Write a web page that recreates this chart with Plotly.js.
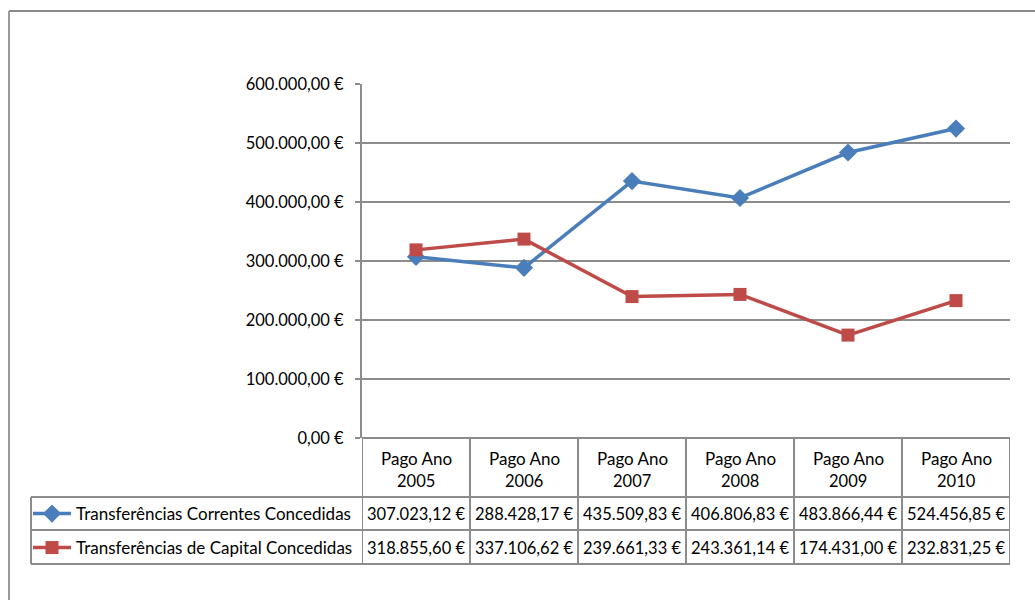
<!DOCTYPE html>
<html>
<head>
<meta charset="utf-8">
<script src="https://cdn.plot.ly/plotly-3.0.1.min.js"></script>
<style>
html,body{margin:0;padding:0;background:#fff;}
#chart{width:1035px;height:600px;}
</style>
</head>
<body>
<div id="chart"></div>
<script>
// ---- data ----
const categories = ["Pago Ano 2005","Pago Ano 2006","Pago Ano 2007","Pago Ano 2008","Pago Ano 2009","Pago Ano 2010"];
const headerLine1 = ["Pago Ano","Pago Ano","Pago Ano","Pago Ano","Pago Ano","Pago Ano"];
const headerLine2 = ["2005","2006","2007","2008","2009","2010"];
const seriesNames = ["Transferências Correntes Concedidas","Transferências de Capital Concedidas"];
const correntes = [307023.12, 288428.17, 435509.83, 406806.83, 483866.44, 524456.85];
const capital = [318855.60, 337106.62, 239661.33, 243361.14, 174431.00, 232831.25];
const yTickVals = [0, 100000, 200000, 300000, 400000, 500000, 600000];

// ---- layout helpers ----
const W = 1035, H = 600;
const L = 362, R = 1010, T = 84, B = 438;
const px2x = p => (p - L) / (R - L);
const px2y = p => (B - p) / (B - T);
const FONT = "Lato, 'Open Sans', sans-serif";
const FSN = 16.5;   // numbers
const FST = 17;     // words
const GRID = "#8c8c8c";

function fmtEuro(v){
  const parts = v.toFixed(2).split(".");
  parts[0] = parts[0].replace(/\B(?=(\d{3})+(?!\d))/g, ".");
  return parts[0] + "," + parts[1] + " €";
}

const traces = [
  {x: categories, y: correntes, name: seriesNames[0], type: "scatter", mode: "lines+markers",
   line: {color: "#4A7EBB", width: 3.5}, marker: {symbol: "diamond", size: 14, color: "#4A7EBB"},
   legend: "legend"},
  {x: categories, y: capital, name: seriesNames[1], type: "scatter", mode: "lines+markers",
   line: {color: "#BE4B48", width: 3.5}, marker: {symbol: "square", size: 13, color: "#BE4B48"},
   legend: "legend2"}
];

const shapes = [];
const line = (x0,y0,x1,y1,xref,w,c) => shapes.push({type:"line", xref: xref||"paper", yref:"paper",
  x0, y0, x1, y1, line:{color: c||GRID, width: w||2}, layer:"above"});
// outer chart frame
line(px2x(9), px2y(11), px2x(W+5), px2y(11), "paper", 2, "#8a8a8a");
line(px2x(9), px2y(11), px2x(9), px2y(H+5), "paper", 2, "#9a9a9a");
// data table horizontal lines
const rowY = [497, 530, 564];
rowY.forEach(y => line(px2x(31), px2y(y), 1, px2y(y)));
// legend column left border
line(px2x(31), px2y(497), px2x(31), px2y(564));
// column boundaries from category positions
for (let i = 0; i <= categories.length; i++) {
  shapes.push({type:"line", xref:"x", yref:"paper", x0: i - 0.5, x1: i - 0.5,
    y0: 0, y1: px2y(564), line:{color: GRID, width: 2}, layer:"above"});
}

const annotations = [];
categories.forEach((c, i) => {
  annotations.push({x: i, xref:"x", y: px2y(458), yref:"paper", text: headerLine1[i], showarrow:false,
    font:{family:FONT, size:FST, color:"#000"}, xanchor:"center", yanchor:"middle"});
  annotations.push({x: i, xref:"x", y: px2y(481), yref:"paper", text: headerLine2[i], showarrow:false,
    font:{family:FONT, size:FSN, color:"#000"}, xanchor:"center", yanchor:"middle"});
  annotations.push({x: i, xref:"x", y: px2y(514), yref:"paper", text: fmtEuro(correntes[i]), showarrow:false,
    font:{family:FONT, size:FSN, color:"#000"}, xanchor:"center", yanchor:"middle"});
  annotations.push({x: i, xref:"x", y: px2y(548), yref:"paper", text: fmtEuro(capital[i]), showarrow:false,
    font:{family:FONT, size:FSN, color:"#000"}, xanchor:"center", yanchor:"middle"});
});

const legendCommon = {font:{family:FONT, size:FST, color:"#000"}, bgcolor:"rgba(0,0,0,0)",
  borderwidth:0, itemwidth:38, xanchor:"left", yanchor:"middle", x: px2x(28), tracegroupgap:0};

const layout = {
  width: W, height: H,
  margin: {l: L, r: W - R, t: T, b: H - B, pad: 0},
  paper_bgcolor: "#fff", plot_bgcolor: "#fff",
  font: {family: FONT, size: FSN, color: "#000"},
  showlegend: true,
  legend: Object.assign({}, legendCommon, {y: px2y(514)}),
  legend2: Object.assign({}, legendCommon, {y: px2y(548)}),
  xaxis: {type:"category", range:[-0.5, categories.length - 0.5], showgrid:false, zeroline:false,
    showline:false, showticklabels:false, ticks:"", fixedrange:true},
  yaxis: {range:[0, 600000], tickmode:"array", tickvals: yTickVals, ticktext: yTickVals.map(fmtEuro),
    showgrid:true, gridcolor: GRID, gridwidth: 2, zeroline:true, zerolinecolor: GRID, zerolinewidth: 2,
    showline:true, linecolor: GRID, linewidth: 2, ticks:"outside", ticklen:5, tickwidth:2, tickcolor: GRID,
    ticklabelstandoff: 8, tickfont:{family:FONT, size:FSN, color:"#000"}, fixedrange:true},
  shapes, annotations
};

Plotly.newPlot("chart", traces, layout, {displayModeBar:false, staticPlot:true});
</script>
</body>
</html>
